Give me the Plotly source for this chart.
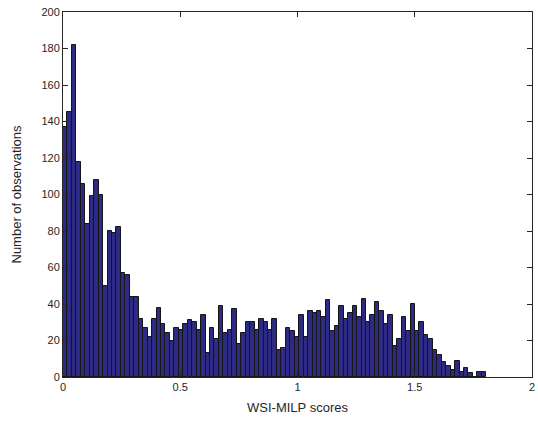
import numpy as np
import plotly.graph_objects as go

# Histogram of WSI-MILP scores
bin_width = 0.019
counts = [137, 145, 182, 118, 106, 84, 99, 108, 100, 50,
          80, 79, 82, 57, 56, 44, 44, 32, 27, 22,
          32, 38, 29, 24, 20, 27, 26, 29, 31, 30,
          26, 34, 13, 27, 21, 39, 24, 26, 37, 18,
          24, 30, 30, 26, 32, 30, 26, 32, 15, 16,
          27, 25, 22, 34, 22, 36, 35, 36, 33, 42,
          25, 28, 39, 32, 35, 39, 33, 43, 30, 34,
          41, 36, 29, 34, 17, 21, 33, 25, 40, 25,
          30, 23, 21, 15, 12, 8, 6, 4, 9, 3,
          5, 2, 0, 3, 3]
x_ticks = [0, 0.5, 1, 1.5, 2]
x_tick_labels = ["0", "0.5", "1", "1.5", "2"]
y_ticks = list(range(0, 201, 20))

centers = (np.arange(len(counts)) + 0.5) * bin_width

fig = go.Figure(go.Bar(
    x=centers, y=counts, width=bin_width,
    marker=dict(color="#2d2a84", line=dict(color="#151515", width=1)),
))

axis_common = dict(
    showline=True, linecolor="#262626", linewidth=1, mirror="allticks",
    ticks="inside", ticklen=5, tickcolor="#262626", showgrid=False,
    zeroline=False, tickfont=dict(size=11, color="#262626"), automargin=False,
)
fig.update_xaxes(range=[0, 2], tickvals=x_ticks, ticktext=x_tick_labels,
                 title=dict(text="WSI-MILP scores", font=dict(size=13, color="#262626"), standoff=10),
                 **axis_common)
fig.update_yaxes(range=[0, 200], tickvals=y_ticks,
                 title=dict(text="Number of observations", font=dict(size=13, color="#262626"), standoff=16),
                 **axis_common)
fig.update_layout(
    width=538, height=421,
    margin=dict(l=63, r=6, t=12, b=44),
    paper_bgcolor="white", plot_bgcolor="white",
    font=dict(family="Liberation Sans, Arial, sans-serif"),
    bargap=0, showlegend=False,
)
fig.write_html("out.html")
